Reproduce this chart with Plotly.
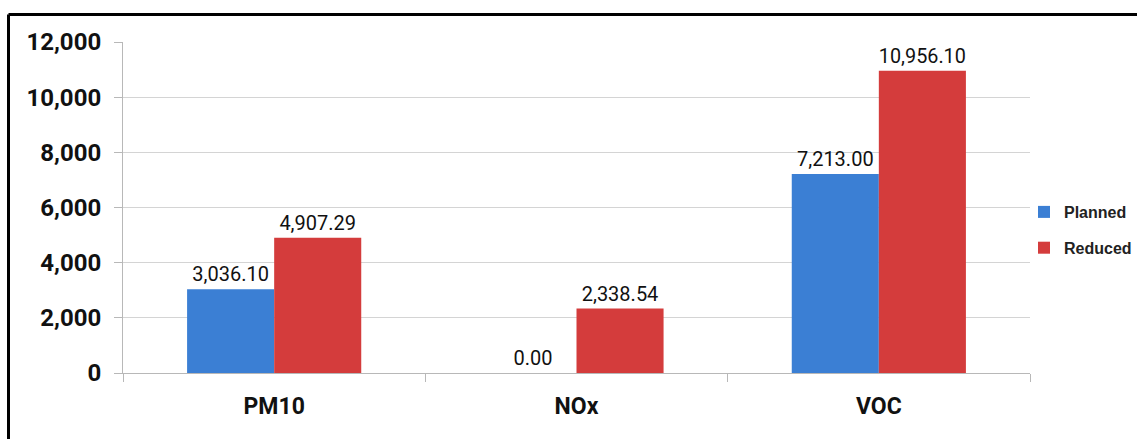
import plotly.graph_objects as go

categories = ["PM10", "NOx", "VOC"]
planned = [3036.10, 0.00, 7213.00]
reduced = [4907.29, 2338.54, 10956.10]
series_names = ["Planned", "Reduced"]
y_ticks = [0, 2000, 4000, 6000, 8000, 10000, 12000]

W, H = 1137, 439
L, T, B = 123, 42, 66
plot_right = 1030
pw_total = W - L          # paper width (r margin = 0)
ph = H - T - B

font_main = "Roboto, Liberation Sans, Arial, sans-serif"

fig = go.Figure()
fig.add_trace(go.Bar(
    x=categories, y=planned, name=series_names[0], legendgroup="a",
    marker=dict(color="#3b7fd4", line=dict(width=0)),
    texttemplate="%{y:,.2f}", textposition="outside", cliponaxis=False,
    textfont=dict(family=font_main, size=20, color="#111111"),
))
fig.add_trace(go.Bar(
    x=categories, y=reduced, name=series_names[1], legendgroup="b",
    marker=dict(color="#d43c3c", line=dict(width=0)),
    texttemplate="%{y:,.2f}", textposition="outside", cliponaxis=False,
    textfont=dict(family=font_main, size=20, color="#111111"),
))

def px_x(p):
    return (p - L) / pw_total

def px_y(p):
    return (H - B - p) / ph

fig.update_layout(
    width=W, height=H,
    margin=dict(l=L, r=0, t=T, b=B, pad=0),
    paper_bgcolor="white", plot_bgcolor="white",
    barmode="group", bargap=0.424, bargroupgap=0,
    showlegend=True,
    legend=dict(
        x=1.0, y=px_y(195), xanchor="right", yanchor="top",
        traceorder="grouped", tracegroupgap=12, itemwidth=30,
        font=dict(family="Liberation Sans, Arial, sans-serif", size=16,
                  color="#222222", weight="bold"),
        bgcolor="rgba(0,0,0,0)", borderwidth=0,
    ),
    xaxis=dict(
        domain=[0, px_x(plot_right)],
        showline=True, linecolor="#b8b8b8", linewidth=1,
        ticks="outside", tickson="boundaries", ticklen=8, tickcolor="#b8b8b8",
        tickfont=dict(family=font_main, size=23, color="#111111", weight="bold"),
        ticklabelstandoff=12,
    ),
    yaxis=dict(
        range=[0, 12000], tickvals=y_ticks, tickformat=",d",
        showline=True, linecolor="#b8b8b8", linewidth=1,
        showgrid=True, gridcolor="#d4d4d4", gridwidth=1,
        ticks="outside", ticklen=8, tickcolor="#b8b8b8",
        tickfont=dict(family=font_main, size=24, color="#111111", weight="bold"),
        ticklabelstandoff=8, zeroline=False,
    ),
    shapes=[
        dict(type="line", xref="paper", yref="paper",
             x0=px_x(8.5), x1=px_x(1140), y0=px_y(14.5), y1=px_y(14.5),
             line=dict(color="black", width=3)),
        dict(type="line", xref="paper", yref="paper",
             x0=px_x(8.5), x1=px_x(8.5), y0=px_y(14.5), y1=px_y(445),
             line=dict(color="black", width=3)),
    ],
)

fig.write_html("out.html")
